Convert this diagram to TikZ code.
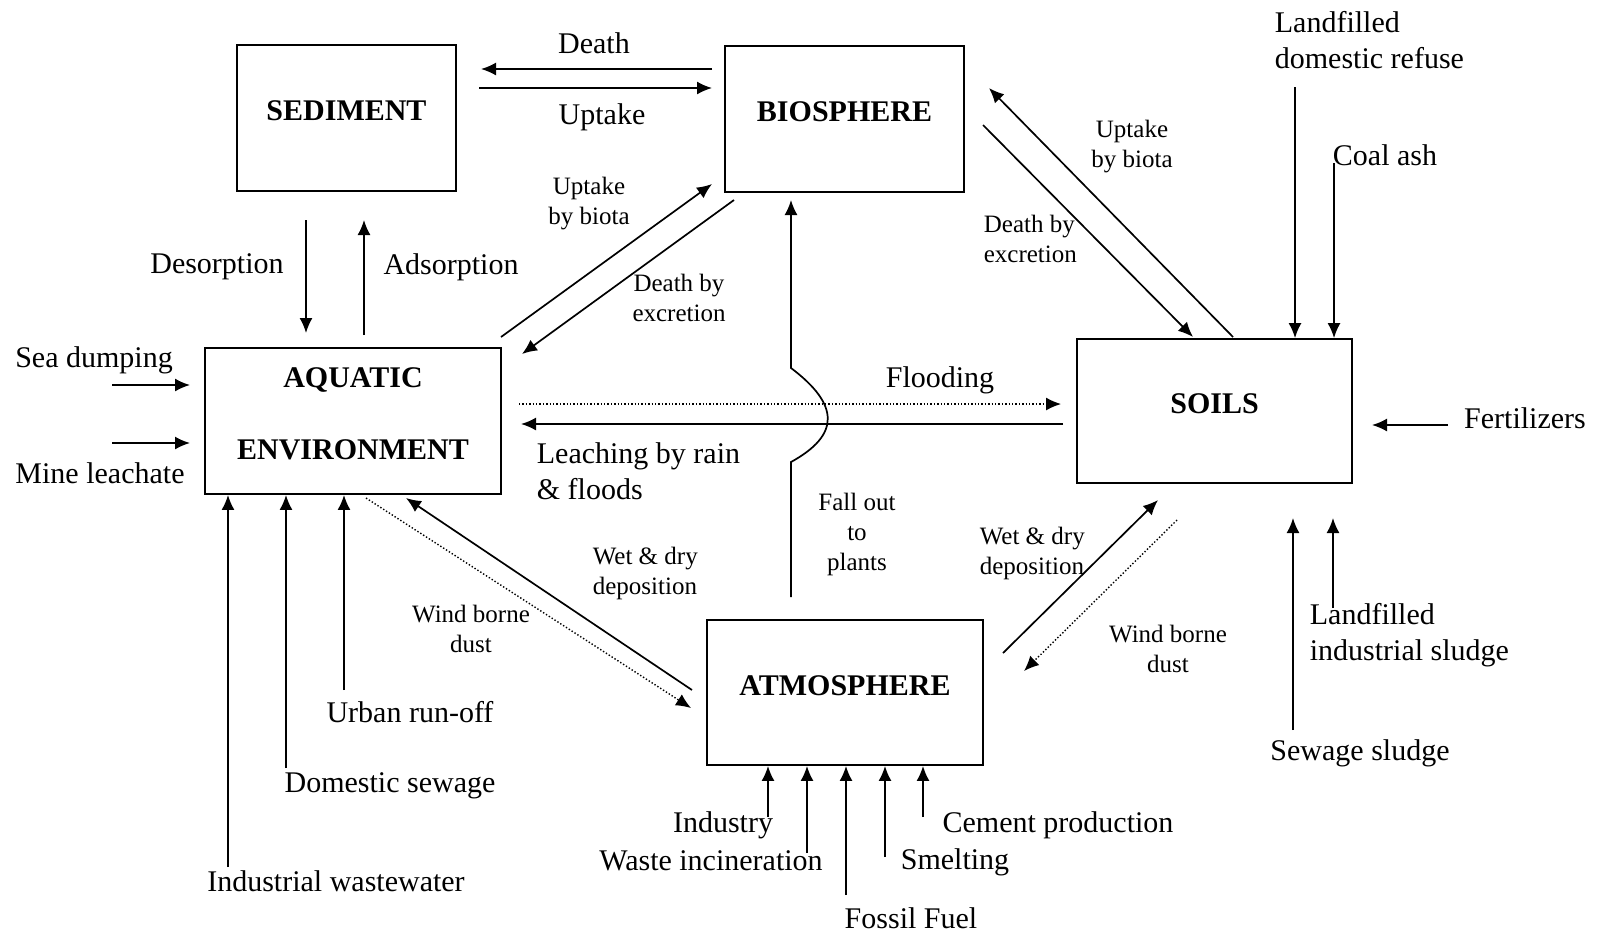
\documentclass[tikz,border=0pt]{standalone}
\usepackage{fontspec}
\setmainfont{Liberation Serif}
\usetikzlibrary{arrows.meta}

\begin{document}
\begin{tikzpicture}
[x=0.5pt,y=-0.5pt,>={Latex[length=7.5pt,width=6.5pt]},line width=0.85pt,
box/.style={draw,line width=0.9pt,font=\fontsize{15}{36}\selectfont\bfseries,align=center,text depth=7pt,inner sep=0pt},
txt/.style={font=\fontsize{15}{18}\selectfont,inner sep=0pt},
small/.style={font=\fontsize{12.5}{15}\selectfont,align=center,inner sep=0pt},
flow/.style={->},
dust/.style={->,densely dotted,line width=0.7pt},]

\useasboundingbox (0,0) rectangle (1599,934);

%Compartments
\node (sed) at (346.5,118) [box,minimum width=109.5pt,minimum height=73pt] {SEDIMENT};
\node (bio) at (844.5,119) [box,minimum width=119.5pt,minimum height=73pt] {BIOSPHERE};
\node (aqua) at (353,421) [box,minimum width=148pt,minimum height=73pt] {AQUATIC\\ENVIRONMENT};
\node (soil) at (1214.5,411) [box,minimum width=137.5pt,minimum height=72pt] {SOILS};
\node (atm) at (845,692.5) [box,minimum width=138pt,minimum height=72.5pt] {ATMOSPHERE};

%Sources
\coordinate (seain) at (112,385);
\coordinate (seaout) at (190,385);
\coordinate (minein) at (112,443);
\coordinate (mineout) at (190,443);
\coordinate (urbin) at (344,690);
\coordinate (domin) at (286,768);
\coordinate (indwin) at (228,867);
\coordinate (ldrin) at (1295,87);
\coordinate (coalin) at (1334,163);
\coordinate (fertin) at (1448,425);
\coordinate (fertout) at (1372,425);
\coordinate (sewin) at (1293,730);
\coordinate (sewout) at (1293,518);
\coordinate (lisin) at (1333,608);
\coordinate (lisout) at (1333,518);
\coordinate (industin) at (768,817);
\coordinate (wastein) at (807,853);
\coordinate (fossilin) at (846,895);
\coordinate (smeltin) at (885,857);
\coordinate (cementin) at (923,817);

%Exchange points
\coordinate (deathA) at (712,69);
\coordinate (deathB) at (481,69);
\coordinate (uptA) at (479,88);
\coordinate (uptB) at (712,88);
\coordinate (desA) at (306,220);
\coordinate (desB) at (306,333);
\coordinate (adsA) at (364,335);
\coordinate (adsB) at (364,220);
\coordinate (ublA) at (501,337);
\coordinate (ublB) at (712,184);
\coordinate (delA) at (734,200);
\coordinate (delB) at (522,354);
\coordinate (ubrA) at (1233,337);
\coordinate (ubrB) at (989,88);
\coordinate (derA) at (983,125);
\coordinate (derB) at (1193,337);
\coordinate (floodA) at (519,404);
\coordinate (floodB) at (1061,404);
\coordinate (leachA) at (1063,424);
\coordinate (leachB) at (521,424);
\coordinate (fallA) at (791,597);
\coordinate (fallB) at (791,462);
\coordinate (fallC) at (791,368);
\coordinate (fallD) at (791,200);
\coordinate (wdlA) at (692,690);
\coordinate (wdlB) at (406,498);
\coordinate (wblA) at (366,498);
\coordinate (wblB) at (691,708);
\coordinate (wdrA) at (1003,653);
\coordinate (wdrB) at (1158,500);
\coordinate (wbrA) at (1177,520);
\coordinate (wbrB) at (1024,671);

%Labels
\node (tdeath) at (594,43) [txt] {Death};
\node (tuptake) at (602,117) [txt] {Uptake};
\node (tdes) at (217,267) [txt] {Desorption};
\node (tads) at (451,267) [txt] {Adsorption};
\node (tsea) at (94,360) [txt] {Sea dumping};
\node (tmine) at (100,473) [txt] {Mine leachate};
\node (tupl) at (589,204) [small] {Uptake\\by biota};
\node (tdel) at (679,298) [small] {Death by\\excretion};
\node (tupr) at (1132,147) [small] {Uptake\\by biota};
\node (tder) at (983,239) [small,anchor=west,align=left] {Death by\\excretion};
\node (tldr) at (1274,40) [txt,anchor=west,align=left] {Landfilled\\domestic refuse};
\node (tcoal) at (1385,155) [txt] {Coal ash};
\node (tfert) at (1525,418) [txt] {Fertilizers};
\node (tflood) at (940,380) [txt] {Flooding};
\node (tleach) at (536,471) [txt,anchor=west,align=left] {Leaching by rain\\\& floods};
\node (tfall) at (857,534) [small] {Fall out\\to\\plants};
\node (twdl) at (592,573) [small,anchor=west,align=left] {Wet \& dry\\deposition};
\node (twbl) at (471,629) [small] {Wind borne\\dust};
\node (turb) at (410,712) [txt] {Urban run-off};
\node (tdom) at (390,786) [txt] {Domestic sewage};
\node (tindw) at (336,881) [txt] {Industrial wastewater};
\node (twdr) at (979,553) [small,anchor=west,align=left] {Wet \& dry\\deposition};
\node (twbr) at (1168,649) [small] {Wind borne\\dust};
\node (tsew) at (1360,753) [txt] {Sewage sludge};
\node (tlis) at (1309,635) [txt,anchor=west,align=left] {Landfilled\\industrial sludge};
\node (tindus) at (723,825) [txt] {Industry};
\node (twaste) at (711,861) [txt] {Waste incineration};
\node (tfossil) at (911,918) [txt] {Fossil Fuel};
\node (tsmelt) at (955,862) [txt] {Smelting};
\node (tcement) at (1058,825) [txt] {Cement production};

%Exchanges between compartments
\draw[flow] (deathA) -- (deathB);
\draw[flow] (uptA) -- (uptB);
\draw[flow] (desA) -- (desB);
\draw[flow] (adsA) -- (adsB);
\draw[flow] (ublA) -- (ublB);
\draw[flow] (delA) -- (delB);
\draw[flow] (ubrA) -- (ubrB);
\draw[flow] (derA) -- (derB);
\draw[dust] (floodA) -- (floodB);
\draw[flow] (leachA) -- (leachB);
\draw[flow] (fallA) -- (fallB) .. controls (840,435) and (840,405) .. (fallC) -- (fallD);
\draw[flow] (wdlA) -- (wdlB);
\draw[dust] (wblA) -- (wblB);
\draw[flow] (wdrA) -- (wdrB);
\draw[dust] (wbrA) -- (wbrB);

%Inputs
\draw[flow] (seain) -- (seaout);
\draw[flow] (minein) -- (mineout);
\draw[flow] (urbin) -- (urbin |- aqua.south);
\draw[flow] (domin) -- (domin |- aqua.south);
\draw[flow] (indwin) -- (indwin |- aqua.south);
\draw[flow] (ldrin) -- (ldrin |- soil.north);
\draw[flow] (coalin) -- (coalin |- soil.north);
\draw[flow] (fertin) -- (fertout);
\draw[flow] (sewin) -- (sewout);
\draw[flow] (lisin) -- (lisout);
\draw[flow] (industin) -- (industin |- atm.south);
\draw[flow] (wastein) -- (wastein |- atm.south);
\draw[flow] (fossilin) -- (fossilin |- atm.south);
\draw[flow] (smeltin) -- (smeltin |- atm.south);
\draw[flow] (cementin) -- (cementin |- atm.south);
\end{tikzpicture}
\end{document}
